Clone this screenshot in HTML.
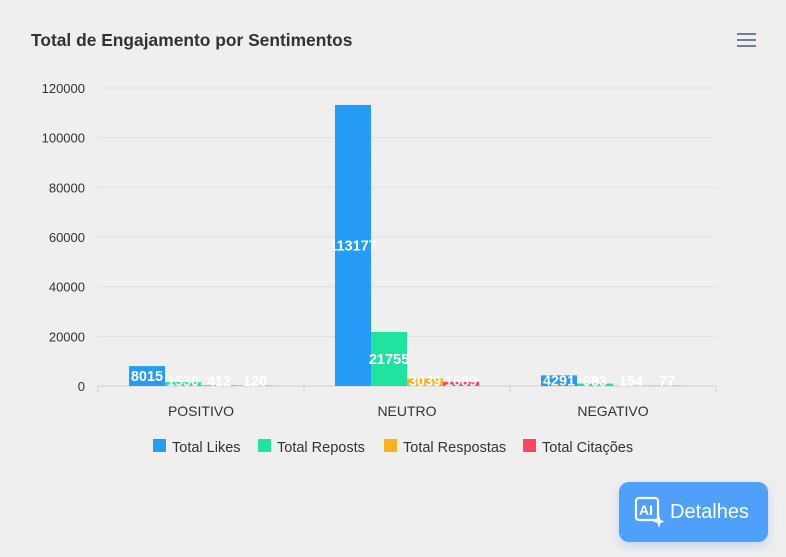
<!DOCTYPE html>
<html><head><meta charset="utf-8"><style>
body{margin:0;width:786px;height:557px;background:#efefef;font-family:"Liberation Sans",sans-serif;overflow:hidden;position:relative}
.btn{position:absolute;left:619px;top:482px;width:149px;height:60px;background:#4fa0fb;border-radius:10px;color:#fff;font-size:20px;box-shadow:0 4px 10px rgba(80,140,230,.25)}
</style></head><body>
<svg width="786" height="557" style="position:absolute;left:0;top:0" id="chart">
<text x="31" y="46" font-size="17.4" font-weight="bold" fill="#333">Total de Engajamento por Sentimentos</text>
<g stroke="#6e7f95" stroke-width="2"><line x1="737" y1="34" x2="756" y2="34"/><line x1="737" y1="40" x2="756" y2="40"/><line x1="737" y1="46" x2="756" y2="46"/></g>
<g id="grid"></g><g id="bars"></g><g id="labels"></g>
<g id="legend"></g>
</svg>
<div class="btn">
<svg width="32" height="32" style="position:absolute;left:15px;top:14px"><rect x="2" y="2" width="22" height="22" rx="3" fill="none" stroke="#fff" stroke-width="2.2"/><text x="5" y="19" font-size="14" font-weight="bold" fill="#fff" font-family="Liberation Sans">AI</text><path d="M25 19 L26.5 24 L31 25.5 L26.5 27 L25 32 L23.5 27 L19 25.5 L23.5 24Z" fill="#fff"/></svg>
<span style="position:absolute;left:51px;top:19px">Detalhes</span></div>
<script>
const categories=["POSITIVO","NEUTRO","NEGATIVO"];
const seriesNames=["Total Likes","Total Reposts","Total Respostas","Total Citações"];
const likes=[8015,113177,4291];
const reposts=[1530,21755,983];
const respostas=[412,3039,154];
const citacoes=[120,1689,77];
const yTicks=[0,20000,40000,60000,80000,100000,120000];
const colors=["#249cf8","#22e2a0","#fdb021","#fd4461"];
const series=[likes,reposts,respostas,citacoes];
const NS="http://www.w3.org/2000/svg";
const x0=98,x1=716,y0=386,y1=88,yMax=120000;
const y=v=>y0-(v/yMax)*(y0-y1);
const gw=(x1-x0)/categories.length,bw=36;
function mk(t,a,p){const e=document.createElementNS(NS,t);for(const k in a)e.setAttribute(k,a[k]);p.appendChild(e);return e;}
const grid=document.getElementById('grid'),bars=document.getElementById('bars'),labels=document.getElementById('labels'),legend=document.getElementById('legend');
yTicks.forEach(t=>{
 const l=mk('line',{x1:x0,x2:x1,y1:y(t),y2:y(t),stroke:t?'#e0e0e0':'#d0d0d0'},grid);
 
 
 const tx=mk('text',{x:85,y:y(t)+5,'text-anchor':'end','font-size':13,fill:'#333'},grid);
 tx.textContent=t;
 
 
});
for(let i=0;i<=categories.length;i++){const l=mk('line',{x1:x0+i*gw,x2:x0+i*gw,y1:y0,y2:y0+6,stroke:'#ccc'},grid);
 
 }
categories.forEach((c,i)=>{
 const cx=x0+gw*(i+0.5);
 const tx=mk('text',{x:cx,y:416,'text-anchor':'middle','font-size':14,fill:'#333'},labels);
 tx.textContent=c;
 
 
 series.forEach((s,j)=>{
  const bx=cx-2*bw+j*bw,v=s[i];
  const r=mk('rect',{x:bx,y:y(v),width:bw,height:y0-y(v),fill:colors[j]},bars);
  
  
  const ly=Math.min((y(v)+y0)/2+5,y0);
  const t=mk('text',{x:bx+bw/2,y:ly,'text-anchor':'middle','font-size':14.5,'font-weight':'bold',fill:'#fff'},labels);
  t.textContent=v;
  
  
 });
});
let lx=153;const lw=[105,126,139,110];
seriesNames.forEach((n,j)=>{
 const g=mk('g',{},legend);
 
 
 mk('rect',{x:lx,y:439,width:13,height:13,fill:colors[j]},g);
 const t=mk('text',{x:lx+19,y:452,'font-size':14.5,fill:'#333'},g);t.textContent=n;
 lx+=lw[j];
});
</script>
</body></html>
